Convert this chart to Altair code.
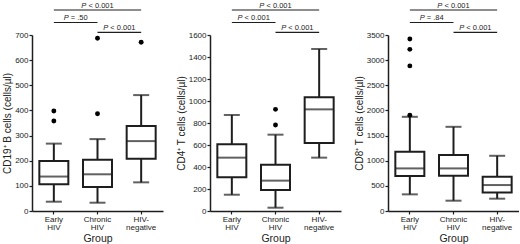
import altair as alt
import pandas as pd

groups = ["Early HIV", "Chronic HIV", "HIV-negative"]

# CD19+ B cells
cd19_min = [37, 33, 114]
cd19_q1 = [106, 95, 208]
cd19_med = [137, 146, 278]
cd19_q3 = [199, 204, 338]
cd19_max = [268, 286, 461]
cd19_out_group = ["Early HIV", "Early HIV", "Chronic HIV", "Chronic HIV", "HIV-negative"]
cd19_out_value = [358, 398, 387, 687, 671]
cd19_p = ["< 0.001", "= .50", "< 0.001"]

# CD4+ T cells
cd4_min = [148, 30, 485]
cd4_q1 = [306, 191, 618]
cd4_med = [485, 276, 924]
cd4_q3 = [606, 421, 1033]
cd4_max = [873, 694, 1473]
cd4_out_group = ["Chronic HIV", "Chronic HIV"]
cd4_out_value = [782, 924]
cd4_p = ["< 0.001", "< 0.001", "< 0.001"]

# CD8+ T cells
cd8_min = [331, 205, 245]
cd8_q1 = [695, 701, 370]
cd8_med = [847, 847, 516]
cd8_q3 = [1178, 1112, 681]
cd8_max = [1873, 1674, 1098]
cd8_out_group = ["Early HIV", "Early HIV", "Early HIV", "Early HIV"]
cd8_out_value = [1906, 2885, 3215, 3421]
cd8_p = ["< 0.001", "= .84", "< 0.001"]

# comparison pairs: (from, to, label anchor group, band position)
pairs_from = ["Early HIV", "Early HIV", "Chronic HIV"]
pairs_to = ["HIV-negative", "Chronic HIV", "HIV-negative"]
pairs_mid = ["Chronic HIV", "Early HIV", "Chronic HIV"]
pairs_bp = [0.5, 1.0, 1.0]
pairs_ypix = [-25, -12.5, -2.7]

FONT = "Liberation Sans"
INK = "#1e1e1e"
W, H = 131, 176


def text_width(s, fs):
    w = {"P": 0.667, " ": 0.278, "<": 0.584, "=": 0.584, ".": 0.278}
    return sum(w.get(c, 0.556) for c in s) * fs


def panel(mn, q1, med, q3, mx, og, ov, pv, ymax, step, ytitle):
    df = pd.DataFrame({"group": groups, "min": mn, "q1": q1, "med": med, "q3": q3, "max": mx})
    odf = pd.DataFrame({"group": og, "value": ov})
    ysc = alt.Scale(domain=[0, ymax], nice=False, zero=True)
    xsc = alt.Scale(domain=groups, paddingInner=0, paddingOuter=0)
    xaxis = alt.Axis(
        title="Group", labelExpr="datum.label == 'HIV-negative' ? ['HIV-', 'negative'] : split(datum.label, ' ')",
        labelAngle=0, labelFontSize=8, labelLineHeight=8, labelColor="#222", labelPadding=1,
        tickSize=3, tickColor=INK, domainColor=INK, domainWidth=1.5, tickWidth=1.2,
        titleFontSize=10.5, titleFontWeight="normal", titleColor="#222", titlePadding=2,
    )
    yaxis = alt.Axis(
        title=ytitle, values=list(range(0, ymax + 1, step)), format="d", grid=False,
        labelOverlap=False, labelBound=False, tickCount=ymax // step + 1,
        labelFontSize=8, labelColor="#222", labelPadding=1, tickSize=3, tickColor=INK,
        tickWidth=1.2, domainColor=INK, domainWidth=1.5,
        titleFontSize=10, titleFontWeight="normal", titleColor="#222", titlePadding=2,
    )
    def X(field, **kw):
        return alt.X(field, scale=xsc, axis=xaxis, title="Group", **kw)

    def Y(field):
        return alt.Y(field, scale=ysc, axis=yaxis, title=ytitle)

    base = alt.Chart(df)
    lower = base.mark_rule(color=INK, strokeWidth=2).encode(x=X("group:N"), y=Y("min:Q"), y2="q1:Q")
    upper = base.mark_rule(color=INK, strokeWidth=2).encode(x=X("group:N"), y=Y("q3:Q"), y2="max:Q")
    cap_lo = base.mark_tick(color=INK, size=16, thickness=2).encode(x=X("group:N"), y=Y("min:Q"))
    cap_hi = base.mark_tick(color=INK, size=16, thickness=2).encode(x=X("group:N"), y=Y("max:Q"))
    box = base.mark_bar(size=29, fill="white", stroke=INK, strokeWidth=2).encode(
        x=X("group:N"), y=Y("q1:Q"), y2="q3:Q")
    median = base.mark_tick(color=INK, size=29, thickness=2).encode(x=X("group:N"), y=Y("med:Q"))
    outl = alt.Chart(odf).mark_circle(color="black", size=24, opacity=1).encode(
        x=X("group:N"), y=Y("value:Q"))
    layers = [lower, upper, box, median, cap_lo, cap_hi, outl]
    for a, b, m, bp, yp, lab in zip(pairs_from, pairs_to, pairs_mid, pairs_bp, pairs_ypix, pv):
        adf = pd.DataFrame({"group": [a], "group2": [b], "mid": [m]})
        fs = 7.5
        total = text_width("P " + lab, fs)
        start = -total / 2
        rule = alt.Chart(adf).mark_rule(color=INK, strokeWidth=1.2).encode(
            x=X("group:N", bandPosition=0.5),
            x2=alt.X2("group2:N"), y=alt.value(yp))
        ptxt = alt.Chart(adf).mark_text(
            text="P", font=FONT, fontSize=fs, fontStyle="italic", align="left",
            baseline="alphabetic", dx=start, color="#222").encode(
            x=X("mid:N", bandPosition=bp), y=alt.value(yp - 2.5))
        rtxt = alt.Chart(adf).mark_text(
            text=lab, font=FONT, fontSize=fs, align="left", baseline="alphabetic",
            dx=start + text_width("P ", fs), color="#222").encode(
            x=X("mid:N", bandPosition=bp), y=alt.value(yp - 2.5))
        layers += [rule, ptxt, rtxt]
    return alt.layer(*layers).properties(width=W, height=H)


p1 = panel(cd19_min, cd19_q1, cd19_med, cd19_q3, cd19_max, cd19_out_group, cd19_out_value, cd19_p,
           700, 100, "CD19⁺ B cells (cells/µl)")
p2 = panel(cd4_min, cd4_q1, cd4_med, cd4_q3, cd4_max, cd4_out_group, cd4_out_value, cd4_p,
           1600, 200, "CD4⁺ T cells (cells/µl)")
p3 = panel(cd8_min, cd8_q1, cd8_med, cd8_q3, cd8_max, cd8_out_group, cd8_out_value, cd8_p,
           3500, 500, "CD8⁺ T cells (cells/µl)")

chart = alt.hconcat(p1, p2, p3, spacing=13).properties(
    padding={"left": 2, "top": 1, "right": 0, "bottom": 0}
).configure(font=FONT).configure_view(stroke=None)

chart.save("out.html", embed_options={"renderer": "svg", "actions": False})
